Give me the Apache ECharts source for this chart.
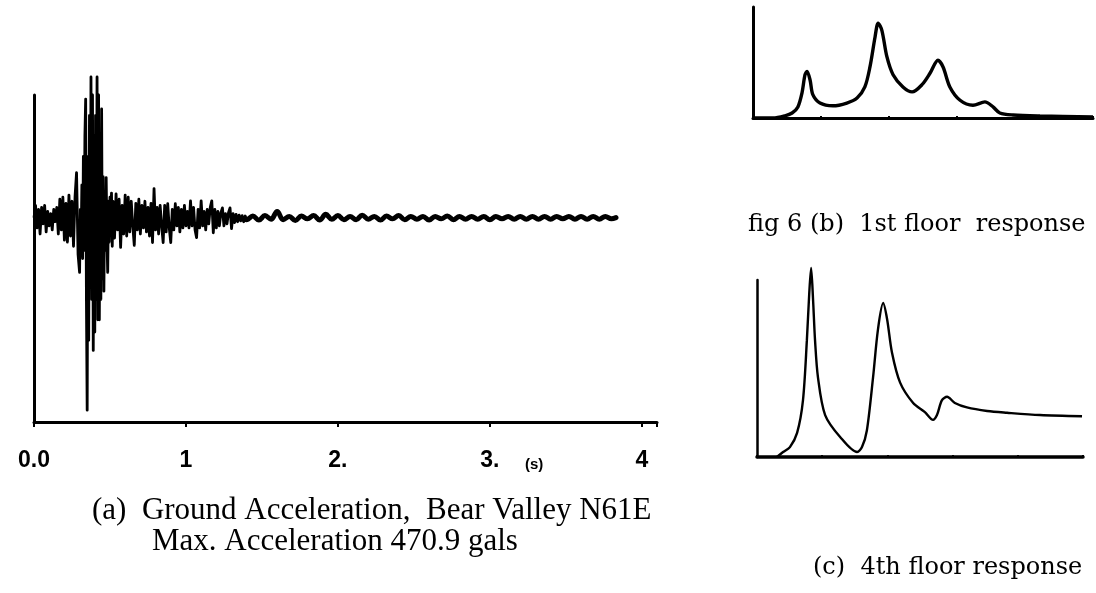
<!DOCTYPE html>
<html>
<head>
<meta charset="utf-8">
<script src="https://cdn.jsdelivr.net/npm/echarts@6/dist/echarts.min.js"></script>
<style>
html,body{margin:0;padding:0;background:#fff;}
#chart{width:1096px;height:593px;}
</style>
</head>
<body>
<div id="chart"></div>
<script>
// ---- data ----
// (a) ground acceleration, strong-motion part: [time (s), acceleration (gal)]
const groundAccel = [
[0.00,0],[0.01,30],[0.02,-25],[0.03,20],[0.04,-40],[0.05,25],[0.06,-15],[0.07,30],[0.08,-35],[0.09,15],
[0.10,-20],[0.11,10],[0.12,-30],[0.13,20],[0.14,-10],[0.15,25],[0.16,-40],[0.17,45],[0.18,-30],[0.19,50],
[0.20,-55],[0.21,35],[0.22,-60],[0.23,55],[0.24,-45],[0.25,40],[0.26,-70],[0.27,50],[0.28,110],[0.29,-90],
[0.300,-134],[0.305,20],[0.310,-60],[0.315,80],[0.320,-100],[0.325,150],[0.330,-80],[0.335,200],[0.340,290],
[0.345,-200],[0.350,-471],[0.355,150],[0.360,-300],[0.365,250],[0.370,-150],[0.375,344],[0.380,-200],
[0.385,300],[0.390,-325],[0.395,200],[0.400,-280],[0.405,250],[0.410,-200],[0.415,344],[0.420,-250],
[0.425,300],[0.430,-250],[0.435,150],[0.440,-200],[0.445,266],[0.450,-150],[0.455,100],[0.460,-180],
[0.465,60],[0.470,-80],[0.475,98],[0.480,-50],[0.485,-134],[0.490,40],[0.495,-60],[0.500,50],[0.505,-40],
[0.510,60],[0.515,-70],
[0.52,40],[0.53,-50],[0.54,58],[0.55,-30],[0.56,45],[0.57,-73],[0.58,30],[0.59,-40],[0.60,55],[0.61,-45],
[0.62,50],[0.63,-35],[0.64,40],[0.65,-20],[0.66,-68],[0.67,35],[0.68,-30],[0.69,45],[0.70,-40],[0.71,30],
[0.72,-25],[0.73,40],[0.74,-35],[0.75,25],[0.76,-45],[0.77,35],[0.78,-61],[0.79,71],[0.80,-30],[0.81,25],
[0.82,-40],[0.83,30],[0.84,-20],[0.85,-61],[0.86,30],[0.87,-35],[0.88,34],[0.89,-25],[0.90,-61],[0.91,20],
[0.92,-30],[0.93,34],[0.94,-20],[0.95,25],[0.96,-35],[0.97,20],[0.98,-25],[0.99,30],[1.00,-20],[1.01,15],
[1.02,-25],[1.03,41],[1.04,-20],[1.05,25],[1.06,-30],[1.07,-49],[1.08,20],[1.09,-25],[1.10,41],[1.11,-20],
[1.12,15],[1.13,-30],[1.14,20],[1.15,-15],[1.16,25],[1.17,41],[1.18,-37],[1.19,20],[1.20,-25],[1.21,15],
[1.22,-20],[1.23,12],[1.24,24],[1.25,-20],[1.26,10],[1.27,-15],[1.28,12],[1.29,24],[1.30,-27],[1.31,10],
[1.32,-12],[1.33,8],[1.34,-10],[1.35,6],[1.36,-8],[1.37,5],[1.38,-10],[1.39,4],[1.40,-6]
];
// (a) ground acceleration, quiet tail: [time (s), acceleration (gal)]
const groundAccelTail = [
[1.38,-4],[1.40,-5],[1.44,4],[1.48,-6],[1.52,5],[1.56,-4],[1.60,15],[1.64,-5],[1.68,3],[1.72,-7],[1.76,4],[1.80,-3],
[1.84,5],[1.88,-6],[1.92,8],[1.96,-4],[2.00,5],[2.04,-5],[2.08,3],[2.12,-5],[2.16,6],[2.20,-4],
[2.24,3],[2.28,-6],[2.32,4],[2.36,-3],[2.40,5],[2.44,-5],[2.48,3],[2.52,-4],[2.56,3],[2.60,-6],
[2.64,3],[2.68,-3],[2.72,4],[2.76,-5],[2.80,3],[2.84,-4],[2.88,3],[2.92,-4],[2.96,3],[3.00,-5],
[3.04,3],[3.08,-3],[3.12,3],[3.16,-4],[3.20,3],[3.24,-4],[3.28,3],[3.32,-4],[3.36,3],[3.40,-4],
[3.44,3],[3.48,-3],[3.52,3],[3.56,-4],[3.60,3],[3.64,-4],[3.68,3],[3.72,-4],[3.76,3],[3.80,-3],[3.83,0]
];
const timeTickLabels = ['0.0', '1', '2.', '3.', '4'];

// (b) 1st floor response: [frequency units, relative amplitude]
const floor1Response = [
[0,0],[0.59,0],[0.94,0.02],[1.15,0.045],[1.32,0.10],[1.44,0.225],[1.53,0.39],[1.59,0.42],[1.68,0.34],
[1.76,0.21],[1.97,0.135],[2.35,0.11],[2.76,0.135],[3.06,0.18],[3.29,0.28],[3.44,0.46],[3.59,0.73],
[3.68,0.855],[3.79,0.79],[3.94,0.55],[4.12,0.39],[4.41,0.28],[4.68,0.235],[4.97,0.30],[5.21,0.405],
[5.44,0.52],[5.59,0.46],[5.79,0.28],[6.09,0.16],[6.47,0.115],[6.82,0.145],[7.06,0.10],[7.26,0.045],
[7.65,0.027],[8.44,0.018],[10,0.01]
];

// (c) 4th floor response: [frequency units, relative amplitude]
const floor4Response = [
[0.61,0],[0.80,0.028],[1.01,0.056],[1.23,0.136],[1.41,0.32],[1.53,0.66],[1.60,0.915],[1.66,1.068],
[1.72,0.887],[1.78,0.66],[1.87,0.45],[2.09,0.237],[2.55,0.113],[3.07,0.028],[3.22,0.056],[3.37,0.15],
[3.56,0.45],[3.71,0.72],[3.87,0.87],[3.99,0.78],[4.14,0.59],[4.39,0.42],[4.79,0.305],[5.15,0.254],
[5.40,0.21],[5.52,0.237],[5.67,0.32],[5.83,0.34],[6.07,0.305],[6.44,0.28],[7.06,0.26],[7.67,0.25],
[8.68,0.237],[9.97,0.23]
];

const captionA1 = '(a)  Ground Acceleration,  Bear Valley N61E';
const captionA2 = 'Max. Acceleration 470.9 gals';
const captionB = 'fig 6 (b)  1st floor  response';
const captionC = '(c)  4th floor response';
const timeUnit = '(s)';

// ---- chart ----
const chart = echarts.init(document.getElementById('chart'), null, {renderer: 'canvas'});
const serif = '"Liberation Serif", "DejaVu Serif", serif';
const wideSerif = '"DejaVu Serif", "Liberation Serif", serif';
const ink = '#000';

const plainY = (w) => ({
  axisLine: {show: true, lineStyle: {color: ink, width: w}},
  axisTick: {show: false}, axisLabel: {show: false}, splitLine: {show: false}
});
const textStyle = (family, size, weight) => ({
  fontFamily: family, fontSize: size, fontWeight: weight, color: ink
});

chart.setOption({
  animation: false,
  backgroundColor: '#fff',
  title: [
    {text: captionA1, left: 87, top: 490, textStyle: textStyle(serif, 31, 'normal')},
    {text: captionA2, left: 147, top: 521, textStyle: textStyle(serif, 31, 'normal')},
    {text: timeUnit, left: 520, top: 452, textStyle: textStyle('"Liberation Sans", sans-serif', 15, 'bold')},
    {text: captionB, left: 743, top: 208, textStyle: textStyle(wideSerif, 24, 'normal')},
    {text: captionC, left: 808, top: 551, textStyle: textStyle(wideSerif, 24, 'normal')}
  ],
  grid: [
    {left: 34, top: 95, width: 623, height: 327},
    {left: 753, top: 7, width: 340, height: 111},
    {left: 757, top: 280, width: 326, height: 177}
  ],
  xAxis: [
    {gridIndex: 0, type: 'value', min: 0, max: 4.1, interval: 1,
     axisLine: {onZero: false, lineStyle: {color: ink, width: 3}},
     axisTick: {show: true, length: 5, lineStyle: {color: ink, width: 2}},
     splitLine: {show: false},
     axisLabel: {margin: 27, fontFamily: '"Liberation Sans", sans-serif',
       fontWeight: 'bold', fontSize: 23, color: ink,
       formatter: (v) => { const i = Math.round(v); return (Math.abs(v - i) < 1e-6 && i < timeTickLabels.length) ? timeTickLabels[i] : ''; }}
    },
    {gridIndex: 1, type: 'value', min: 0, max: 10, interval: 2,
     axisLine: {onZero: false, lineStyle: {color: ink, width: 3}},
     axisTick: {show: true, inside: true, length: 2, lineStyle: {color: ink, width: 2}},
     axisLabel: {show: false}, splitLine: {show: false}},
    {gridIndex: 2, type: 'value', min: 0, max: 10, interval: 2,
     axisLine: {onZero: false, lineStyle: {color: ink, width: 3.5}},
     axisTick: {show: true, inside: true, length: 2, lineStyle: {color: ink, width: 2}},
     axisLabel: {show: false}, splitLine: {show: false}}
  ],
  yAxis: [
    Object.assign({gridIndex: 0, type: 'value', min: -500, max: 300}, plainY(3)),
    Object.assign({gridIndex: 1, type: 'value', min: 0, max: 1}, plainY(3)),
    Object.assign({gridIndex: 2, type: 'value', min: 0, max: 1}, plainY(2.5))
  ],
  series: [
    {type: 'line', xAxisIndex: 0, yAxisIndex: 0, data: groundAccel, showSymbol: false, clip: false,
     sampling: null, lineStyle: {color: ink, width: 2.8, join: 'round'}, z: 3},
    {type: 'line', xAxisIndex: 0, yAxisIndex: 0, data: groundAccelTail, showSymbol: false, clip: false,
     smooth: 0.4, lineStyle: {color: ink, width: 5, join: 'round', cap: 'round'}, z: 3},
    {type: 'line', xAxisIndex: 1, yAxisIndex: 1, data: floor1Response, showSymbol: false, smooth: 0.3, clip: false,
     lineStyle: {color: ink, width: 3.4}},
    {type: 'line', xAxisIndex: 2, yAxisIndex: 2, data: floor4Response, showSymbol: false, smooth: 0.3, clip: false,
     lineStyle: {color: ink, width: 2.4}}
  ]
});
</script>
</body>
</html>
